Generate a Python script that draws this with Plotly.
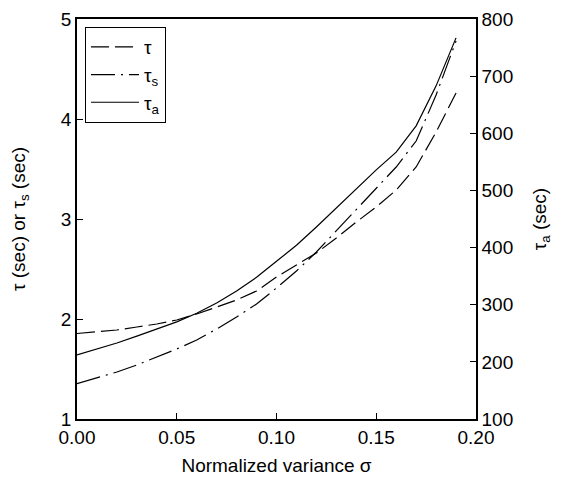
import plotly.graph_objects as go

sigma = [0.00, 0.01, 0.02, 0.03, 0.04, 0.05, 0.06, 0.07, 0.08, 0.09,
         0.10, 0.11, 0.12, 0.13, 0.14, 0.15, 0.16, 0.17, 0.18, 0.19]
tau = [1.855, 1.87, 1.89, 1.92, 1.95, 1.99, 2.05, 2.12, 2.19, 2.28,
       2.42, 2.54, 2.66, 2.81, 2.97, 3.12, 3.29, 3.52, 3.87, 4.26]
tau_s = [1.353, 1.41, 1.47, 1.54, 1.62, 1.70, 1.79, 1.90, 2.02, 2.15,
         2.31, 2.48, 2.67, 2.88, 3.10, 3.31, 3.52, 3.78, 4.24, 4.78]
tau_a = [212, 222, 233, 245, 257, 270, 285, 303, 324, 348,
         376, 404, 436, 469, 502, 536, 567, 613, 683, 767]

FONT = "Arial, Liberation Sans, sans-serif"

fig = go.Figure()
fig.add_trace(go.Scatter(x=sigma, y=tau, mode="lines", name="τ",
                         line=dict(color="black", width=1.2, dash="18px,6px")))
fig.add_trace(go.Scatter(x=sigma, y=tau_s, mode="lines", name="τ<sub>s</sub>",
                         line=dict(color="black", width=1.2, dash="24px,6px,2px,6px")))
fig.add_trace(go.Scatter(x=sigma, y=tau_a, mode="lines", name="τ<sub>a</sub>",
                         yaxis="y2",
                         line=dict(color="black", width=1.2)))

axis_common = dict(showgrid=False, zeroline=False, showline=True, linecolor="black",
                   linewidth=1.5, ticks="inside", ticklen=6, tickcolor="black",
                   tickwidth=1.2, automargin=False,
                   tickfont=dict(size=19, color="black", family=FONT))

fig.update_layout(
    width=559, height=486,
    margin=dict(l=69, r=91, t=11, b=75),
    paper_bgcolor="white", plot_bgcolor="white",
    font=dict(family=FONT, color="black"),
    xaxis=dict(range=[0, 0.2], tickvals=[0, 0.05, 0.1, 0.15, 0.2], tickformat=".2f",
               mirror=True,
               title=dict(text="Normalized variance σ", font=dict(size=19), standoff=12),
               **axis_common),
    yaxis=dict(range=[1, 5], dtick=1,
               title=dict(text="τ (sec) or τ<sub>s</sub> (sec)", font=dict(size=19), standoff=33),
               **axis_common),
    yaxis2=dict(range=[100, 800], dtick=100, overlaying="y", side="right",
                title=dict(text="τ<sub>a</sub> (sec)", font=dict(size=19), standoff=20),
                **axis_common),
    legend=dict(x=0.02, y=0.98, xanchor="left", yanchor="top",
                bordercolor="black", borderwidth=1, bgcolor="white",
                font=dict(size=19, family=FONT), tracegroupgap=0, itemwidth=48),
    showlegend=True,
)

fig.write_html("out.html")
